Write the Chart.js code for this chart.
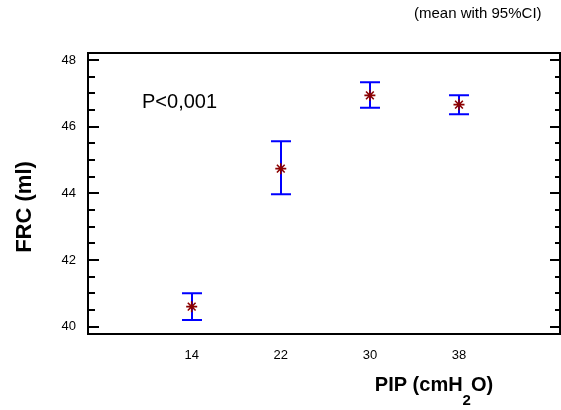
<!DOCTYPE html>
<html>
<head>
<meta charset="utf-8">
<script src="https://cdn.jsdelivr.net/npm/chart.js@4/dist/chart.umd.min.js"></script>
<style>
  html, body { margin: 0; padding: 0; background: #ffffff; }
  #c { display: block; }
</style>
</head>
<body>
<canvas id="c" width="561" height="410"></canvas>
<script>
// ---- data ----
const pip = [14, 22, 30, 38];                 // PIP (cmH2O)
const frcMean = [40.6, 44.74, 46.94, 46.66];  // mean FRC (ml)
const ciLower = [40.2, 43.97, 46.57, 46.37];  // lower 95% CI
const ciUpper = [41.0, 45.56, 47.33, 46.94];  // upper 95% CI
const yTickValues = [40, 42, 44, 46, 48];
const xTickValues = [14, 22, 30, 38];
const yTitle = 'FRC (ml)';
const xTitleParts = ['PIP (cmH', '2', 'O)'];
const annotationText = 'P<0,001';
const subtitleText = '(mean with 95%CI)';

const FONT = '"Liberation Sans", Arial, Helvetica, sans-serif';

const errorBarPlugin = {
  id: 'errorBars',
  beforeDatasetsDraw(chart) {
    const { ctx, scales: { x, y } } = chart;
    ctx.save();
    ctx.strokeStyle = '#0000ff';
    ctx.lineWidth = 2;
    pip.forEach((p, i) => {
      const px = Math.round(x.getPixelForValue(p));
      const yl = y.getPixelForValue(ciLower[i]);
      const yu = y.getPixelForValue(ciUpper[i]);
      ctx.beginPath();
      ctx.moveTo(px, yl); ctx.lineTo(px, yu);
      ctx.moveTo(px - 10, yu); ctx.lineTo(px + 10, yu);
      ctx.moveTo(px - 10, yl); ctx.lineTo(px + 10, yl);
      ctx.stroke();
    });
    ctx.restore();
  }
};

const framePlugin = {
  id: 'frame',
  afterDatasetsDraw(chart) {
    const { ctx, chartArea: a, scales: { y } } = chart;
    ctx.save();
    ctx.strokeStyle = '#000000';
    ctx.lineWidth = 2;
    ctx.strokeRect(a.left, a.top, a.right - a.left, a.bottom - a.top);
    for (let v = yTickValues[0]; v <= yTickValues[yTickValues.length - 1] + 1e-9; v += 0.5) {
      const py = Math.round(y.getPixelForValue(v));
      const major = Math.abs(v - Math.round(v / 2) * 2) < 1e-6;
      const lenL = major ? 11 : 7;
      const lenR = major ? 10 : 5;
      ctx.beginPath();
      ctx.moveTo(a.left, py); ctx.lineTo(a.left + lenL, py);
      ctx.moveTo(a.right, py); ctx.lineTo(a.right - lenR, py);
      ctx.stroke();
    }
    ctx.restore();
  }
};

const textPlugin = {
  id: 'texts',
  afterDraw(chart) {
    const { ctx } = chart;
    ctx.save();
    ctx.fillStyle = '#000000';
    ctx.textAlign = 'left';
    ctx.textBaseline = 'alphabetic';
    // subtitle
    ctx.font = '15px ' + FONT;
    ctx.fillText(subtitleText, 414, 18);
    // annotation
    ctx.font = '20px ' + FONT;
    ctx.fillText(annotationText, 142, 108);
    // y title
    ctx.save();
    ctx.translate(31, 207);
    ctx.rotate(-Math.PI / 2);
    ctx.font = 'bold 22px ' + FONT;
    ctx.textAlign = 'center';
    ctx.fillText(yTitle, 0, 0);
    ctx.restore();
    // x title with subscript
    ctx.font = 'bold 20px ' + FONT;
    const w1 = ctx.measureText(xTitleParts[0]).width;
    const w3 = ctx.measureText(xTitleParts[2]).width;
    ctx.font = 'bold 15px ' + FONT;
    const w2 = ctx.measureText(xTitleParts[1]).width;
    const total = w1 + w2 + w3;
    let sx = 434 - total / 2;
    const base = 391;
    ctx.font = 'bold 20px ' + FONT;
    ctx.fillText(xTitleParts[0], sx, base);
    sx += w1;
    ctx.font = 'bold 15px ' + FONT;
    ctx.fillText(xTitleParts[1], sx, base + 14);
    sx += w2;
    ctx.font = 'bold 20px ' + FONT;
    ctx.fillText(xTitleParts[2], sx, base);
    ctx.restore();
  }
};

new Chart(document.getElementById('c'), {
  type: 'scatter',
  data: {
    datasets: [{
      data: pip.map((p, i) => ({ x: p, y: frcMean[i] })),
      pointStyle: 'star',
      radius: 5.5,
      hoverRadius: 5.5,
      borderColor: '#8b0000',
      backgroundColor: '#8b0000',
      borderWidth: 1.6
    }]
  },
  options: {
    responsive: false,
    animation: false,
    devicePixelRatio: 1,
    layout: { autoPadding: false, padding: { top: 53, right: 1, left: 0, bottom: 0 } },
    plugins: { legend: { display: false }, tooltip: { enabled: false } },
    scales: {
      x: {
        type: 'linear',
        min: 4.69,
        max: 47.07,
        afterBuildTicks(scale) { scale.ticks = xTickValues.map(v => ({ value: v })); },
        afterFit(scale) { scale.height = 76; scale.paddingLeft = 0; scale.paddingRight = 0; },
        grid: { display: false, drawTicks: false },
        border: { display: false },
        ticks: { color: '#000', font: { family: FONT, size: 13 }, padding: 14 }
      },
      y: {
        type: 'linear',
        min: 39.78,
        max: 48.21,
        afterBuildTicks(scale) { scale.ticks = yTickValues.map(v => ({ value: v })); },
        afterFit(scale) { scale.width = 88; scale.paddingTop = 0; scale.paddingBottom = 0; },
        grid: { display: false, drawTicks: false },
        border: { display: false },
        ticks: { color: '#000', font: { family: FONT, size: 13 }, padding: 12 }
      }
    }
  },
  plugins: [errorBarPlugin, framePlugin, textPlugin]
});
</script>
</body>
</html>
